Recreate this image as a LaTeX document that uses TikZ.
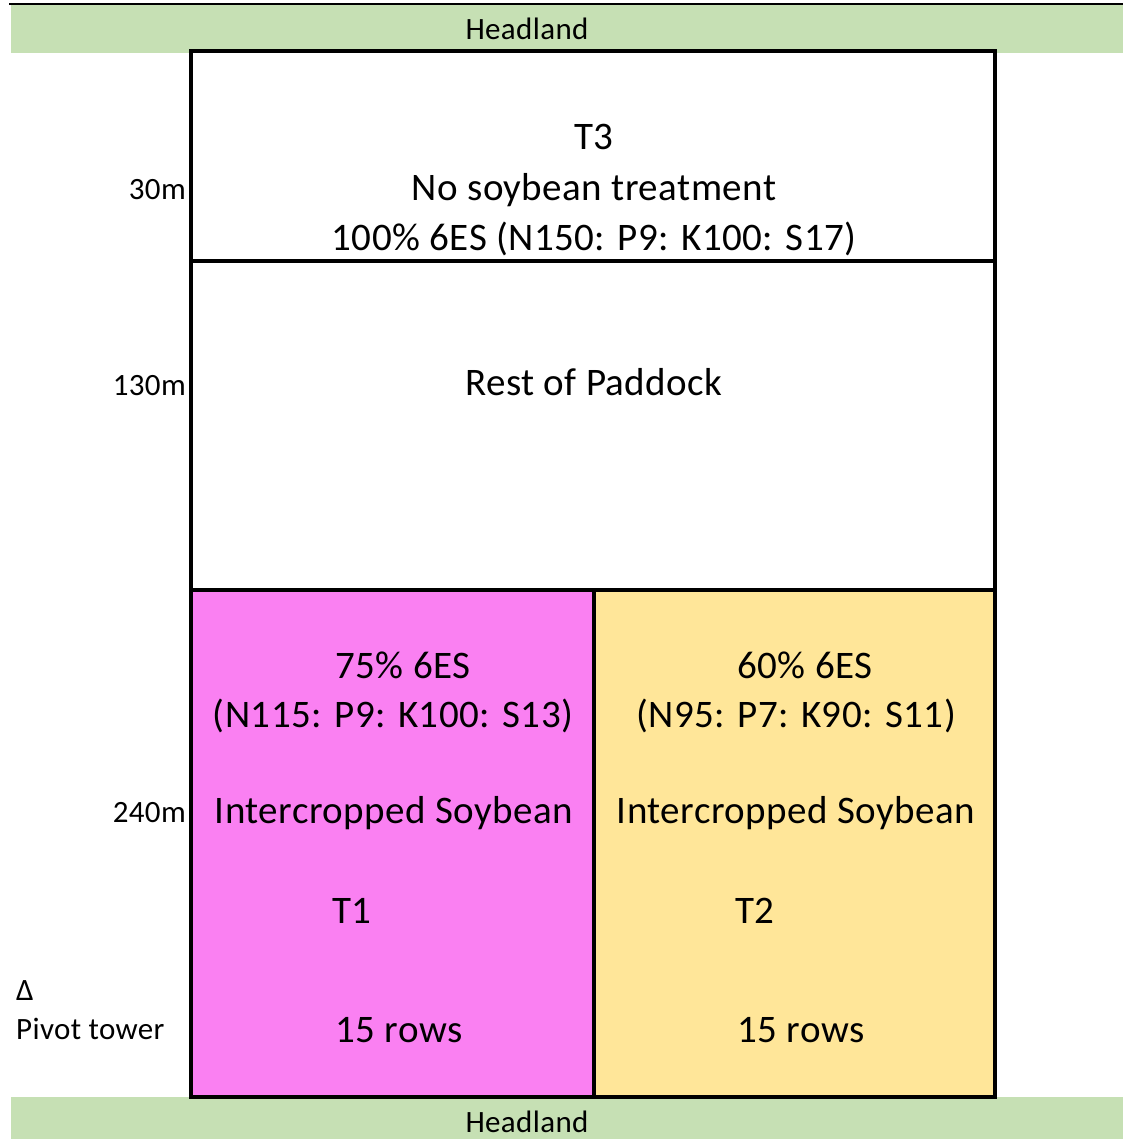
\documentclass[tikz,border=0pt]{standalone}
\usepackage{fontspec}
\setmainfont[LetterSpace=1.2]{Carlito}
\definecolor{headgreen}{HTML}{C6E0B4}
\definecolor{tpink}{HTML}{FA80F2}
\definecolor{tyellow}{HTML}{FFE699}
\begin{document}
\begin{tikzpicture}[x=1pt,y=-1pt,
  big/.style={font=\fontsize{39}{47}\selectfont, inner sep=0pt, anchor=base},
  small/.style={font=\fontsize{31}{37}\selectfont, inner sep=0pt, anchor=base},
  border/.style={line width=4.5pt},
  divider/.style={line width=3.5pt}]
\useasboundingbox (0,0) rectangle (1123,1139);
% headlands
\fill[headgreen] (11,5) rectangle (1123,53);
\fill[headgreen] (11,1097) rectangle (1123,1139);
\draw[line width=2.5pt] (9,4) -- (1123,4);
% treatment plots
\fill[tpink] (191,590) rectangle (594,1097);
\fill[tyellow] (594,590) rectangle (995,1097);
\draw[divider] (191,261) -- (995,261);
\draw[divider] (191,590) -- (995,590);
\draw[divider] (594,590) -- (594,1097);
\draw[border] (191,51) rectangle (995,1097);
% headland labels
\node[small] (hltop) at (527,40) {Headland};
\node[small] (hlbot) at (527,1132) {Headland};
% distance labels
\node[small, anchor=base east] (d30) at (186,200) {30m};
\node[small, anchor=base east] (d130) at (186,395) {130m};
\node[small, anchor=base east] (d240) at (186,822) {240m};
\node[small, anchor=base west] (delta) at (16,1000) {Δ};
\node[small, anchor=base west] (pivot) at (16,1039) {Pivot tower};
% T3
\node[big] (t3a) at (594,150) {T3};
\node[big] (t3b) at (594,201) {No soybean treatment};
\node[big] (t3c) at (594,251) {100\% 6ES (N150: P9: K100: S17)};
\node[big] (rest) at (594,395) {Rest of Paddock};
% T1
\node[big] (t1a) at (403,678) {75\% 6ES};
\node[big] (t1b) at (393,727) {(N115: P9: K100: S13)};
\node[big] (t1c) at (394,823) {Intercropped Soybean};
\node[big] (t1d) at (352,923) {T1};
\node[big] (t1e) at (399,1042) {15 rows};
% T2
\node[big] (t2a) at (805,678) {60\% 6ES};
\node[big] (t2b) at (796,727) {(N95: P7: K90: S11)};
\node[big] (t2c) at (796,823) {Intercropped Soybean};
\node[big] (t2d) at (755,923) {T2};
\node[big] (t2e) at (801,1042) {15 rows};
\end{tikzpicture}
\end{document}
